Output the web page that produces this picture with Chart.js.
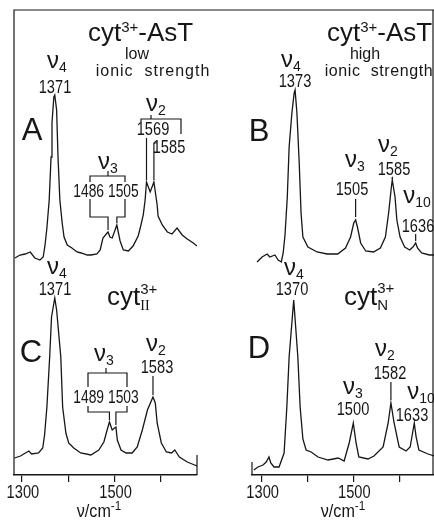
<!DOCTYPE html>
<html lang="en">
<head>
<meta charset="UTF-8">
<title>Raman spectra cyt3+</title>
<script src="https://cdn.jsdelivr.net/npm/chart.js"></script>
<style>
  html, body { margin: 0; padding: 0; background: #fff; overflow: hidden; }
  #wrap { position: relative; width: 434px; height: 520px; overflow: hidden; }
  #left { position: absolute; left: 0; top: 0; }
  #right { position: absolute; left: 217px; top: 0; }
</style>
</head>
<body>
<div id="wrap">
  <canvas id="left" width="217" height="520"></canvas>
  <canvas id="right" width="217" height="520"></canvas>
</div>
<script>
// spectra: wavenumber (cm-1) and trace height (arb. units)
const nuA = [1285,1296,1307,1318,1328,1339,1346,1350,1354,1359,1363,1365,1369,1371,1375,1378,1382,1387,1391,1398,1408,1419,1428,1441,1449,1462,1469,1475,1484,1486,1490,1495,1505,1512,1519,1530,1540,1551,1556,1562,1566,1569,1577,1585,1592,1594,1603,1614,1624,1635,1646,1657,1670,1678];
const intA = [217,220,221,223,217,215,218,230,247,275,318,352,378,380,365,318,275,252,238,230,227,223,222,220,220,221,225,237,242,243,238,237,250,234,225,224,229,239,248,260,275,293,283,293,270,259,250,243,241,247,240,236,232,229];

const nuB = [1290,1301,1312,1318,1329,1336,1343,1347,1351,1356,1360,1366,1371,1373,1377,1382,1386,1390,1401,1421,1443,1466,1483,1494,1501,1505,1509,1516,1527,1544,1559,1570,1577,1583,1585,1591,1595,1602,1612,1623,1630,1636,1640,1649,1666,1676];
const intB = [213,218,221,218,220,215,213,222,240,278,328,362,382,385,362,312,262,238,228,223,221,221,227,238,252,255,248,232,224,223,227,238,262,288,295,278,255,238,228,225,228,232,227,222,220,220];

const nuC = [1284,1297,1315,1321,1336,1345,1349,1354,1360,1364,1371,1375,1384,1388,1395,1401,1412,1427,1449,1466,1477,1484,1489,1495,1503,1506,1514,1525,1538,1549,1560,1571,1583,1588,1592,1601,1612,1623,1630,1640,1657,1673,1678];
const intC = [17,19,24,21,22,27,40,68,118,158,177,165,118,68,42,32,27,22,20,25,33,45,53,45,48,35,25,22,22,28,45,65,78,72,52,32,23,22,25,18,13,10,9];

const nuD = [1283,1292,1303,1310,1316,1320,1327,1338,1349,1355,1360,1370,1379,1384,1390,1397,1408,1423,1445,1467,1480,1491,1500,1506,1512,1532,1545,1565,1576,1582,1589,1600,1615,1624,1633,1637,1643,1663,1676];
const intD = [5,8,10,13,18,12,8,8,22,68,118,175,118,68,36,25,23,18,15,17,14,32,52,32,18,16,19,28,52,72,52,28,24,28,52,38,25,21,19];

// labelled band positions
const peaksA = [1371, 1486, 1505, 1569, 1585];
const peaksB = [1373, 1505, 1585, 1636];
const peaksC = [1371, 1489, 1503, 1583];
const peaksD = [1370, 1500, 1582, 1633];

const tickValues = [1300, 1400, 1500, 1600];
const tickLabels = ['1300', '', '1500', ''];

const INK = '#161616';
const SANS = "'Liberation Sans', Arial, sans-serif";
const SERIF = "'Liberation Serif', serif";
const NARROW = 0.77; // the figure's lettering is condensed

const F = {
  title: '26px ' + SANS, sup: '15px ' + SANS, small: '16px ' + SANS,
  nu: '24px ' + SANS, sub: '14px ' + SANS, dig: '19px ' + SANS,
  pair: '18px ' + SANS, big: '31px ' + SANS, roman: '14px ' + SERIF,
  axis: '19px ' + SANS, exp: '13px ' + SANS
};

const txt = (text, font, dy, extra) => Object.assign({ text, font, dy: dy || 0 }, extra || {});
const nu = s => [txt('ν', F.nu), txt(s, F.sub, 4)];
const num = v => [txt(String(v), F.dig, 0, { sx: NARROW })];

function series(x, y) {
  return {
    data: x.map((v, i) => ({ x: v, y: y[i] })),
    borderColor: INK, borderWidth: 1.3, pointRadius: 0, tension: 0, fill: false
  };
}

function rich(ctx, t) {
  let x = 0, lastX = 0, lastW = 0;
  const pos = [];
  t.parts.forEach(p => {
    ctx.font = p.font;
    ctx.letterSpacing = p.spacing || '0px';
    const w = ctx.measureText(p.text).width * (p.sx || 1);
    if (p.under) {
      pos.push(lastX);
      x += Math.max(0, w - lastW);
      lastW = Math.max(lastW, w);
    } else {
      pos.push(x); lastX = x; lastW = w; x += w;
    }
  });
  const start = t.align === 'left' ? t.x : t.x - x / 2;
  t.parts.forEach((p, i) => {
    ctx.font = p.font;
    ctx.letterSpacing = p.spacing || '0px';
    ctx.save();
    ctx.translate(start + pos[i], t.y + p.dy);
    ctx.scale(p.sx || 1, 1);
    ctx.fillText(p.text, 0, 0);
    ctx.restore();
  });
  ctx.letterSpacing = '0px';
}

function poly(ctx, pts) {
  ctx.beginPath();
  pts.forEach((p, i) => i ? ctx.lineTo(p[0], p[1]) : ctx.moveTo(p[0], p[1]));
  ctx.stroke();
}

function notes(spec) {
  return {
    id: 'notes',
    afterDatasetsDraw(chart) {
      const ctx = chart.ctx, xs = chart.scales.x, ys = chart.scales.y, off = spec.offset;
      const ca = chart.chartArea;
      const px = v => xs.getPixelForValue(v) + off;
      const top = (s, v) => {
        const d = spec.series[s];
        return ys.getPixelForValue(d[1][d[0].indexOf(v)]);
      };
      ctx.save();
      ctx.translate(-off, 0);
      ctx.strokeStyle = INK;
      ctx.fillStyle = INK;
      ctx.lineWidth = 1.2;
      ctx.textBaseline = 'alphabetic';
      ctx.textAlign = 'left';

      // frame
      const L = ca.left + off, R = ca.right + off, T = ca.top, B = ca.bottom;
      if (spec.frame === 'left') {
        poly(ctx, [[off + chart.width, T], [L, T], [L, B]]);
        poly(ctx, [[R, B - 20], [R, B]]);
      } else {
        poly(ctx, [[off, T], [R, T]]);
        poly(ctx, [[R - 1, T], [R - 1, B]]);
        poly(ctx, [[L, B - 13], [L, B]]);
      }

      // tick labels, condensed like the original lettering
      tickValues.forEach((v, i) => {
        if (tickLabels[i]) rich(ctx, { x: px(v) + 1, y: B + 23, parts: [txt(tickLabels[i], F.dig, 0, { sx: NARROW })] });
      });

      spec.texts.forEach(t => rich(ctx, t));
      (spec.lines || []).forEach(l => poly(ctx, l));

      (spec.leaders || []).forEach(l => {
        const x = px(l.nu), y = top(l.s, l.nu) - l.gap;
        const pts = [[x, l.from], [x, y]];
        if (l.hook) pts.unshift([x + l.hook, l.from]);
        poly(ctx, pts);
      });

      (spec.brackets || []).forEach(b => {
        poly(ctx, [[b.l, b.gaps[0]], [b.l, b.top], [b.r, b.top], [b.r, b.gaps[0]]]);
        poly(ctx, [[b.tick, b.top], [b.tick, b.top - 5]]);
        const x1 = px(b.legs[0]), x2 = px(b.legs[1]);
        poly(ctx, [[b.l, b.gaps[1]], [b.l, b.bottom], [x1, b.bottom], [x1, top(b.s, b.legs[0]) - 2]]);
        poly(ctx, [[b.r, b.gaps[1]], [b.r, b.bottom], [x2, b.bottom], [x2, top(b.s, b.legs[1]) - 2]]);
      });

      spec.axisTitle && rich(ctx, spec.axisTitle);
      ctx.restore();
    }
  };
}

function options(min, max, padding) {
  return {
    responsive: false,
    animation: false,
    layout: { padding },
    plugins: { legend: { display: false }, tooltip: { enabled: false } },
    scales: {
      x: {
        type: 'linear', min, max,
        afterFit: s => { s.height = 45; },
        afterBuildTicks: a => { a.ticks = tickValues.map(v => ({ value: v })); },
        ticks: { display: false },
        grid: { drawOnChartArea: false, drawTicks: true, tickLength: 7, color: INK, lineWidth: 1.2 },
        border: { display: true, color: INK, width: 1.4 }
      },
      y: { display: false, min: 0, max: 465 }
    }
  };
}

const axisTitle = x => ({ x, y: 517, parts: [txt('ν/cm', F.axis, 0, { sx: 0.85 }), txt('-1', F.exp, -7, { sx: 0.9 })] });

const leftNotes = {
  offset: 0, frame: 'left',
  series: { A: [nuA, intA], C: [nuC, intC] },
  texts: [
    { x: 88, y: 41, align: 'left', parts: [txt('cyt', F.title), txt('3+', F.sup, -9), txt('-AsT', F.title)] },
    { x: 137, y: 59, parts: [txt('low', F.small)] },
    { x: 153, y: 76, parts: [txt('ionic  strength', F.small, 0, { spacing: '1px' })] },
    { x: 57, y: 68, parts: nu('4') },
    { x: 55, y: 93, parts: num(peaksA[0]) },
    { x: 32, y: 140, parts: [txt('A', F.big)] },
    { x: 156, y: 111, parts: nu('2') },
    { x: 153, y: 135, parts: num(peaksA[3]) },
    { x: 169, y: 153, parts: num(peaksA[4]) },
    { x: 108, y: 169, parts: nu('3') },
    { x: 106, y: 197, parts: [txt(peaksA[1] + ' ' + peaksA[2], F.pair, 0, { sx: NARROW })] },

    { x: 107, y: 305, align: 'left', parts: [txt('cyt', F.title), txt('3+', F.sup, -11), txt('II', F.roman, 5, { under: true })] },
    { x: 57, y: 274, parts: nu('4') },
    { x: 55, y: 295, parts: num(peaksC[0]) },
    { x: 31, y: 362, parts: [txt('C', F.big)] },
    { x: 104, y: 361, parts: nu('3') },
    { x: 106, y: 403, parts: [txt(peaksC[1] + ' ' + peaksC[2], F.pair, 0, { sx: NARROW })] },
    { x: 156, y: 351, parts: nu('2') },
    { x: 157, y: 373, parts: num(peaksC[3]) }
  ],
  lines: [
    [[141, 122], [141, 119], [181, 119], [181, 134]],
    [[151, 119], [151, 115]]
  ],
  leaders: [
    { s: 'A', nu: peaksA[3], from: 138, gap: 2 },
    { s: 'A', nu: peaksA[4], from: 143, gap: 2, hook: 3 },
    { s: 'C', nu: peaksC[3], from: 376, gap: 2 }
  ],
  brackets: [
    { s: 'A', l: 90, r: 125, top: 176, tick: 108, gaps: [182, 199], bottom: 217, legs: [peaksA[1], peaksA[2]] },
    { s: 'C', l: 88, r: 127, top: 373, tick: 106, gaps: [387, 406], bottom: 412, legs: [peaksC[1], peaksC[2]] }
  ],
  axisTitle: axisTitle(99)
};

const rightNotes = {
  offset: 217, frame: 'right',
  series: { B: [nuB, intB], D: [nuD, intD] },
  texts: [
    { x: 327, y: 41, align: 'left', parts: [txt('cyt', F.title), txt('3+', F.sup, -9), txt('-AsT', F.title)] },
    { x: 365, y: 59, parts: [txt('high', F.small)] },
    { x: 379, y: 76, parts: [txt('ionic  strength', F.small, 0, { spacing: '0.6px' })] },
    { x: 291, y: 67, parts: nu('4') },
    { x: 295, y: 87, parts: num(peaksB[0]) },
    { x: 259, y: 141, parts: [txt('B', F.big)] },
    { x: 355, y: 167, parts: nu('3') },
    { x: 352, y: 195, parts: num(peaksB[1]) },
    { x: 388, y: 152, parts: nu('2') },
    { x: 394, y: 175, parts: num(peaksB[2]) },
    { x: 417, y: 203, parts: nu('10') },
    { x: 418, y: 232, parts: num(peaksB[3]) },

    { x: 344, y: 305, align: 'left', parts: [txt('cyt', F.title), txt('3+', F.sup, -12), txt('N', F.sup, 5, { under: true })] },
    { x: 294, y: 275, parts: nu('4') },
    { x: 292, y: 295, parts: num(peaksD[0]) },
    { x: 259, y: 358, parts: [txt('D', F.big)] },
    { x: 385, y: 356, parts: nu('2') },
    { x: 390, y: 379, parts: num(peaksD[2]) },
    { x: 353, y: 394, parts: nu('3') },
    { x: 353, y: 415, parts: num(peaksD[1]) },
    { x: 421, y: 399, parts: nu('10') },
    { x: 412, y: 421, parts: num(peaksD[3]) }
  ],
  leaders: [
    { s: 'B', nu: peaksB[1], from: 199, gap: 3 },
    { s: 'B', nu: peaksB[2], from: 177, gap: 1 },
    { s: 'B', nu: peaksB[3], from: 234, gap: 2 },
    { s: 'D', nu: peaksD[2], from: 382, gap: 3 }
  ],
  axisTitle: axisTitle(343)
};

new Chart(document.getElementById('left'), {
  type: 'line',
  data: { datasets: [series(nuA, intA), series(nuC, intC)] },
  options: options(1283, 1678, { left: 14, right: 20, top: 10, bottom: 0 }),
  plugins: [notes(leftNotes)]
});

new Chart(document.getElementById('right'), {
  type: 'line',
  data: { datasets: [series(nuB, intB), series(nuD, intD)] },
  options: options(1279, 1676, { left: 35, right: 0, top: 10, bottom: 0 }),
  plugins: [notes(rightNotes)]
});
</script>
</body>
</html>
